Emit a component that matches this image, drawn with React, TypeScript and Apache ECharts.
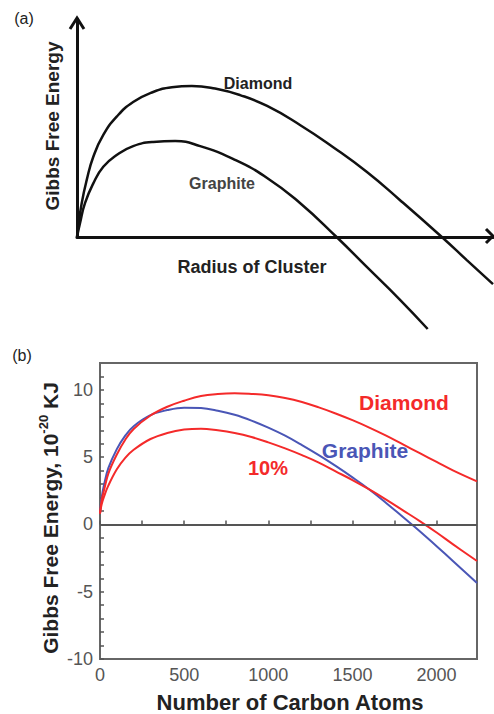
import { useEffect, useRef } from 'react';
import * as echarts from 'echarts';

// Panel (a): schematic curves, [radius, energy] in arbitrary units
const schemDiamond: number[][] = [
  [0, 0], [0.31, 4.7], [1.13, 15.5], [2.33, 26.1], [3.92, 36.8], [6.32, 46.8], [9.54, 55.2],
  [13.5, 61.9], [18.3, 66.5], [22.8, 68.7], [27.6, 69.3], [33.2, 68.1], [39.2, 65.1],
  [45.7, 60.1], [53.6, 51.4], [61.5, 41.3], [69.7, 29.8], [77.6, 17.0], [87.7, 0],
  [93.7, -10.6], [100, -21.6],
];
const schemGraphite: number[][] = [
  [0, 0], [0.72, 6.3], [1.92, 15.5], [3.92, 24.6], [6.32, 32.2], [9.54, 37.6], [13.5, 41.7],
  [18.3, 43.6], [23.6, 44.0], [29.6, 41.7], [37.5, 35.8], [45.7, 27.1], [53.6, 15.6],
  [62.4, 0], [69.6, -13.6], [77.6, -28.7], [84.3, -42.2],
];

// Panel (b): Gibbs free energy (10^-20 kJ) vs number of carbon atoms
const atoms = [0, 10, 25, 50, 100, 150, 200, 300, 400, 500, 600, 700, 800, 900, 1000, 1100, 1200, 1300, 1400, 1500, 1600, 1700, 1800, 1900, 2000, 2100, 2240];
const diamond = [0.8, 1.8, 2.6, 3.8, 5.2, 6.3, 7.1, 8.1, 8.75, 9.2, 9.55, 9.7, 9.75, 9.7, 9.6, 9.4, 9.1, 8.7, 8.25, 7.75, 7.2, 6.6, 5.95, 5.3, 4.65, 4.0, 3.2];
const graphite = [0.8, 2.0, 3.0, 4.2, 5.6, 6.6, 7.3, 8.12, 8.5, 8.68, 8.65, 8.45, 8.15, 7.72, 7.2, 6.6, 5.9, 5.15, 4.35, 3.5, 2.6, 1.6, 0.55, -0.5, -1.62, -2.75, -4.35];
const tenPercent = [0.8, 1.5, 2.1, 2.9, 4.1, 4.95, 5.55, 6.35, 6.8, 7.05, 7.12, 7.0, 6.8, 6.5, 6.1, 5.65, 5.15, 4.6, 3.95, 3.3, 2.6, 1.85, 1.05, 0.25, -0.6, -1.5, -2.72];

const yTickLabels = [-10, -5, 0, 5, 10];
const xTickLabels = [0, 500, 1000, 1500, 2000];

const RED = '#f42a2a';
const BLUE = '#4a56b6';
const FONT = 'Liberation Sans, Arial, sans-serif';

export default function App() {
  const ref = useRef<HTMLDivElement>(null);
  useEffect(() => {
    if (!ref.current) return;
    const chart = echarts.init(ref.current, undefined, { renderer: 'svg' });
    const pair = (ys: number[]) => atoms.map((n, i) => [n, ys[i]]);
    chart.setOption({
      animation: false,
      backgroundColor: '#fff',
      textStyle: { fontFamily: FONT },
      grid: [
        { left: 77, right: 1, top: 19, bottom: 477, show: false },
        { left: 100, right: 17, top: 363, bottom: 55, show: true, borderColor: '#666', borderWidth: 2 },
      ],
      xAxis: [
        {
          gridIndex: 0, type: 'value', min: 0, max: 100,
          axisLine: { show: true, onZero: false, lineStyle: { color: '#111', width: 3 } },
          axisTick: { show: false }, axisLabel: { show: false }, splitLine: { show: false },
        },
        {
          gridIndex: 1, type: 'value', min: 0, max: 2240, interval: 250,
          axisLine: { show: false },
          axisTick: { show: true, inside: true, length: 4, lineStyle: { color: '#555', width: 1.5 } },
          axisLabel: {
            margin: 7, fontSize: 18, color: '#555', fontFamily: FONT, showMaxLabel: false,
            formatter: (v: number) => (xTickLabels.includes(v) ? String(v) : ''),
          },
          splitLine: { show: false },
        },
      ],
      yAxis: [
        {
          gridIndex: 0, type: 'value', min: 0, max: 100,
          axisLine: { show: true, onZero: false, lineStyle: { color: '#111', width: 3 } },
          axisTick: { show: false }, axisLabel: { show: false }, splitLine: { show: false },
        },
        {
          gridIndex: 1, type: 'value', min: -10, max: 12, interval: 1,
          axisLine: { show: false },
          axisTick: { show: true, inside: true, length: 4, lineStyle: { color: '#555', width: 1.5 } },
          axisLabel: {
            margin: 7, fontSize: 18, color: '#555', fontFamily: FONT, showMaxLabel: false,
            formatter: (v: number) => (yTickLabels.includes(v) ? String(v) : ''),
          },
          splitLine: { show: false },
        },
      ],
      series: [
        {
          type: 'line', xAxisIndex: 0, yAxisIndex: 0, data: schemDiamond, smooth: 0.5,
          showSymbol: false, clip: false, lineStyle: { color: '#111', width: 2.5 },
        },
        {
          type: 'line', xAxisIndex: 0, yAxisIndex: 0, data: schemGraphite, smooth: 0.5,
          showSymbol: false, clip: false, lineStyle: { color: '#111', width: 2.5 },
        },
        {
          type: 'line', xAxisIndex: 1, yAxisIndex: 1, data: pair(graphite), smooth: 0.4,
          showSymbol: false, lineStyle: { color: BLUE, width: 2 },
          markLine: {
            silent: true, symbol: ['none', 'none'], label: { show: false },
            lineStyle: { color: '#555', width: 2, type: 'solid' },
            data: [{ yAxis: 0 }],
          },
        },
        {
          type: 'line', xAxisIndex: 1, yAxisIndex: 1, data: pair(diamond), smooth: 0.4,
          showSymbol: false, lineStyle: { color: RED, width: 2 },
        },
        {
          type: 'line', xAxisIndex: 1, yAxisIndex: 1, data: pair(tenPercent), smooth: 0.4,
          showSymbol: false, lineStyle: { color: RED, width: 2 },
        },
      ],
      graphic: [
        { type: 'polyline', shape: { points: [[70, 29], [77, 18], [84, 29]] }, style: { stroke: '#111', lineWidth: 3, fill: 'none' } },
        { type: 'polyline', shape: { points: [[486, 229], [493, 236], [486, 243]] }, style: { stroke: '#111', lineWidth: 3, fill: 'none' } },
        { type: 'text', x: 24, y: 18, style: { text: '(a)', fontSize: 16, fontFamily: FONT, fill: '#222', align: 'center', verticalAlign: 'middle' } },
        { type: 'text', x: 258, y: 83, style: { text: 'Diamond', fontSize: 16, fontWeight: 'bold', fontFamily: FONT, fill: '#222', align: 'center', verticalAlign: 'middle' } },
        { type: 'text', x: 222, y: 183, style: { text: 'Graphite', fontSize: 16, fontWeight: 'bold', fontFamily: FONT, fill: '#444', align: 'center', verticalAlign: 'middle' } },
        { type: 'text', x: 252, y: 267, style: { text: 'Radius of Cluster', fontSize: 18, fontWeight: 'bold', fontFamily: FONT, fill: '#222', align: 'center', verticalAlign: 'middle' } },
        { type: 'text', x: 52, y: 126, rotation: Math.PI / 2, style: { text: 'Gibbs Free Energy', fontSize: 19, fontWeight: 'bold', fontFamily: FONT, fill: '#222', align: 'center', verticalAlign: 'middle' } },
        { type: 'text', x: 22, y: 355, style: { text: '(b)', fontSize: 16, fontFamily: FONT, fill: '#222', align: 'center', verticalAlign: 'middle' } },
        { type: 'text', x: 404, y: 402, style: { text: 'Diamond', fontSize: 21, fontWeight: 'bold', fontFamily: FONT, fill: RED, align: 'center', verticalAlign: 'middle' } },
        { type: 'text', x: 365, y: 450, style: { text: 'Graphite', fontSize: 21, fontWeight: 'bold', fontFamily: FONT, fill: BLUE, align: 'center', verticalAlign: 'middle' } },
        { type: 'text', x: 268, y: 468, style: { text: '10%', fontSize: 20, fontWeight: 'bold', fontFamily: FONT, fill: RED, align: 'center', verticalAlign: 'middle' } },
        { type: 'text', x: 290, y: 702, style: { text: 'Number of Carbon Atoms', fontSize: 22, fontWeight: 'bold', fontFamily: FONT, fill: '#222', align: 'center', verticalAlign: 'middle' } },
        {
          type: 'text', x: 50, y: 518, rotation: Math.PI / 2,
          style: {
            text: '{m|Gibbs Free Energy, 10}{s|-20}{m| KJ}',
            align: 'center', verticalAlign: 'middle', fill: '#222',
            rich: {
              m: { fontSize: 21, fontWeight: 'bold', fontFamily: FONT, fill: '#222', lineHeight: 26 },
              s: { fontSize: 13, fontWeight: 'bold', fontFamily: FONT, fill: '#222', lineHeight: 13, verticalAlign: 'top' },
            },
          },
        },
      ],
    });
    return () => chart.dispose();
  }, []);
  return <div ref={ref} style={{ position: 'fixed', left: 0, top: 0, width: 494, height: 714 }} />;
}
